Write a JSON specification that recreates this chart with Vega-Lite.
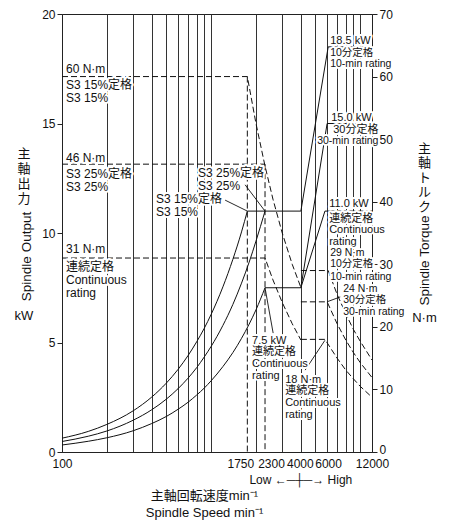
{
  "$schema": "https://vega.github.io/schema/vega-lite/v6.json",
  "width": 310,
  "height": 438,
  "autosize": {"type": "none"},
  "padding": {"left": 62, "top": 14, "right": 81, "bottom": 72},
  "background": "white",
  "config": {
    "view": {"stroke": "#222", "strokeWidth": 1},
    "font": "Liberation Sans, Noto Sans CJK JP, sans-serif",
    "text": {"font": "Liberation Sans, Noto Sans CJK JP, sans-serif"},
    "axis": {
      "domainColor": "#222", "tickColor": "#222", "labelColor": "#111", "titleColor": "#111",
      "labelFont": "Liberation Sans, Noto Sans CJK JP, sans-serif",
      "titleFont": "Liberation Sans, Noto Sans CJK JP, sans-serif",
      "labelFontSize": 12, "titleFontWeight": "normal", "grid": false
    }
  },
  "datasets": {
    "pc": [
      {"s": "P15", "n": 100, "v": 0.63}, {"s": "P15", "n": 150, "v": 0.94}, {"s": "P15", "n": 200, "v": 1.26},
      {"s": "P15", "n": 300, "v": 1.88}, {"s": "P15", "n": 400, "v": 2.51}, {"s": "P15", "n": 500, "v": 3.14},
      {"s": "P15", "n": 600, "v": 3.77}, {"s": "P15", "n": 700, "v": 4.4}, {"s": "P15", "n": 800, "v": 5.03},
      {"s": "P15", "n": 900, "v": 5.65}, {"s": "P15", "n": 1000, "v": 6.28}, {"s": "P15", "n": 1200, "v": 7.54},
      {"s": "P15", "n": 1400, "v": 8.8}, {"s": "P15", "n": 1600, "v": 10.05}, {"s": "P15", "n": 1750, "v": 11.0},
      {"s": "P25", "n": 100, "v": 0.48}, {"s": "P25", "n": 150, "v": 0.72}, {"s": "P25", "n": 200, "v": 0.96},
      {"s": "P25", "n": 300, "v": 1.45}, {"s": "P25", "n": 400, "v": 1.93}, {"s": "P25", "n": 500, "v": 2.41},
      {"s": "P25", "n": 600, "v": 2.89}, {"s": "P25", "n": 700, "v": 3.37}, {"s": "P25", "n": 800, "v": 3.85},
      {"s": "P25", "n": 900, "v": 4.34}, {"s": "P25", "n": 1000, "v": 4.82}, {"s": "P25", "n": 1200, "v": 5.78},
      {"s": "P25", "n": 1400, "v": 6.74}, {"s": "P25", "n": 1600, "v": 7.71}, {"s": "P25", "n": 1800, "v": 8.67},
      {"s": "P25", "n": 2000, "v": 9.63}, {"s": "P25", "n": 2300, "v": 11.0},
      {"s": "PC", "n": 100, "v": 0.32}, {"s": "PC", "n": 150, "v": 0.49}, {"s": "PC", "n": 200, "v": 0.65},
      {"s": "PC", "n": 300, "v": 0.97}, {"s": "PC", "n": 400, "v": 1.3}, {"s": "PC", "n": 500, "v": 1.62},
      {"s": "PC", "n": 600, "v": 1.95}, {"s": "PC", "n": 700, "v": 2.27}, {"s": "PC", "n": 800, "v": 2.6},
      {"s": "PC", "n": 900, "v": 2.92}, {"s": "PC", "n": 1000, "v": 3.25}, {"s": "PC", "n": 1200, "v": 3.9},
      {"s": "PC", "n": 1400, "v": 4.54}, {"s": "PC", "n": 1600, "v": 5.19}, {"s": "PC", "n": 1800, "v": 5.84},
      {"s": "PC", "n": 2000, "v": 6.49}, {"s": "PC", "n": 2300, "v": 7.5}
    ],
    "pl": [
      {"s": "F15", "n": 1750, "v": 11.0}, {"s": "F15", "n": 4000, "v": 11.0},
      {"s": "FC", "n": 2300, "v": 7.5}, {"s": "FC", "n": 4000, "v": 7.5},
      {"s": "H10", "n": 4000, "v": 11.0}, {"s": "H10", "n": 6100, "v": 18.5}, {"s": "H10", "n": 12000, "v": 18.5},
      {"s": "H30", "n": 4000, "v": 7.5}, {"s": "H30", "n": 6000, "v": 15.0}, {"s": "H30", "n": 12000, "v": 15.0},
      {"s": "HC", "n": 4000, "v": 7.5}, {"s": "HC", "n": 5800, "v": 11.0}, {"s": "HC", "n": 12000, "v": 11.0}
    ],
    "ld": [
      {"s": "L15", "n": 1242, "v": 11.5}, {"s": "L15", "n": 1750, "v": 11.0},
      {"s": "L25", "n": 1691, "v": 12.2}, {"s": "L25", "n": 2300, "v": 11.0},
      {"s": "L75", "n": 2607, "v": 5.43}, {"s": "L75", "n": 2300, "v": 7.5},
      {"s": "L18", "n": 4275, "v": 3.74}, {"s": "L18", "n": 5800, "v": 5.1},
      {"s": "L24", "n": 7345, "v": 7.08}, {"s": "L24", "n": 6000, "v": 6.86}
    ],
    "tl": [
      {"s": "T15", "n": 100, "v": 60}, {"s": "T15", "n": 1750, "v": 60}, {"s": "T15", "n": 2000, "v": 52.5},
      {"s": "T15", "n": 2300, "v": 45.7}, {"s": "T15", "n": 2600, "v": 40.4}, {"s": "T15", "n": 3000, "v": 35.0},
      {"s": "T15", "n": 3500, "v": 30.0}, {"s": "T15", "n": 4000, "v": 26.3},
      {"s": "T25", "n": 100, "v": 46}, {"s": "T25", "n": 2300, "v": 46},
      {"s": "TC", "n": 100, "v": 31}, {"s": "TC", "n": 2300, "v": 31}, {"s": "TC", "n": 2600, "v": 27.5},
      {"s": "TC", "n": 3000, "v": 23.9}, {"s": "TC", "n": 3500, "v": 20.5}, {"s": "TC", "n": 4000, "v": 17.9},
      {"s": "T10", "n": 4000, "v": 29}, {"s": "T10", "n": 6100, "v": 29}, {"s": "T10", "n": 7000, "v": 25.2},
      {"s": "T10", "n": 8000, "v": 22.1}, {"s": "T10", "n": 9000, "v": 19.6}, {"s": "T10", "n": 10000, "v": 17.7},
      {"s": "T10", "n": 12000, "v": 14.7},
      {"s": "T30", "n": 4000, "v": 24}, {"s": "T30", "n": 6000, "v": 24}, {"s": "T30", "n": 7000, "v": 20.5},
      {"s": "T30", "n": 8000, "v": 17.9}, {"s": "T30", "n": 9000, "v": 15.9}, {"s": "T30", "n": 10000, "v": 14.3},
      {"s": "T30", "n": 12000, "v": 11.9},
      {"s": "THC", "n": 4000, "v": 18}, {"s": "THC", "n": 5800, "v": 18}, {"s": "THC", "n": 7000, "v": 15.0},
      {"s": "THC", "n": 8000, "v": 13.1}, {"s": "THC", "n": 9000, "v": 11.7}, {"s": "THC", "n": 10000, "v": 10.5},
      {"s": "THC", "n": 12000, "v": 8.75}
    ],
    "tv": [
      {"n": 1750, "v": 60, "v0": 0},
      {"n": 2300, "v": 46, "v0": 0}
    ],
    "labA": [
      {"n": 106.4, "v": 17.71, "t": "60 N·m"},
      {"n": 106.4, "v": 16.98, "t": "S3 15%定格\nS3 15%"},
      {"n": 106.4, "v": 13.65, "t": "46 N·m"},
      {"n": 106.4, "v": 12.92, "t": "S3 25%定格\nS3 25%"},
      {"n": 106.4, "v": 9.49, "t": "31 N·m"},
      {"n": 106.4, "v": 8.67, "t": "連続定格\nContinuous\nrating"},
      {"n": 818, "v": 12.96, "t": "S3 25%定格\nS3 25%"},
      {"n": 427, "v": 11.78, "t": "S3 15%定格\nS3 15%"}
    ],
    "labB": [
      {"n": 6290, "v": 19.06, "t": "18.5 kW"},
      {"n": 6390, "v": 15.54, "t": "15.0 kW"},
      {"n": 6590, "v": 15.0, "t": "30分定格"},
      {"n": 6194, "v": 11.62, "t": "11.0 kW"},
      {"n": 6194, "v": 10.93, "t": "連続定格\nContinuous\nrating"},
      {"n": 1884, "v": 5.36, "t": "7.5 kW\n連続定格\nContinuous\nrating"},
      {"n": 3139, "v": 3.58, "t": "18 N·m\n連続定格\nContinuous\nrating"}
    ],
    "labC": [
      {"n": 6290, "v": 18.45, "t": "10分定格\n10-min rating"},
      {"n": 5144, "v": 14.42, "t": "30-min rating"},
      {"n": 6290, "v": 9.32, "t": "29 N·m\n10分定格"},
      {"n": 6290, "v": 8.2, "t": "10-min rating"},
      {"n": 7690, "v": 7.68, "t": "24 N·m\n30分定格\n30-min rating"}
    ],
    "outL": [
      {"n": 100, "v": 13.88, "t": "主\n軸\n出\n力"},
      {"n": 100, "v": 6.48, "t": "kW"}
    ],
    "outR": [
      {"n": 12000, "v": 14.11, "t": "主\n軸\nト\nル\nク"},
      {"n": 12000, "v": 6.39, "t": "N·m"}
    ],
    "gear": [
      {"n": 4000, "v": 0, "t": "Low ←─┼─→ High"}
    ]
  },
  "encoding": {
    "x": {
      "field": "n", "type": "quantitative",
      "scale": {"type": "log", "domain": [100, 12000], "nice": false},
      "axis": {
        "values": [100, 200, 300, 400, 500, 600, 700, 800, 900, 1000, 1750, 2000, 2300, 3000, 4000, 5000, 6000, 7000, 8000, 9000, 10000, 12000],
        "labelExpr": "indexof([100,1750,2300,4000,6000,12000], datum.value) >= 0 ? format(datum.value, 'd') : ''",
        "labelOverlap": false, "labelFlush": false, "labelBound": false,
        "labelFontSize": 12, "labelPadding": 6,
        "labelOffset": {"condition": [{"test": "datum.value == 1750", "value": -7}, {"test": "datum.value == 2300", "value": 6}, {"test": "datum.value == 4000", "value": -1}, {"test": "datum.value == 6000", "value": 1}], "value": 0},
        "ticks": false,
        "grid": true,
        "gridColor": {"condition": {"test": "indexof([100,1750,2300,12000], datum.value) >= 0", "value": "transparent"}, "value": "#333"},
        "gridWidth": 1,
        "title": ["主軸回転速度min⁻¹", "Spindle Speed min⁻¹"],
        "titleFontSize": 13, "titleLineHeight": 17,
        "titleX": 142, "titleY": 37, "titleAlign": "center", "titleBaseline": "top"
      }
    }
  },
  "layer": [
    {
      "encoding": {
        "y": {
          "field": "v", "type": "quantitative",
          "scale": {"domain": [0, 20], "nice": false},
          "axis": {
            "values": [0, 5, 10, 15, 20], "tickSize": 5, "labelPadding": 2, "labelFontSize": 12,
            "title": "Spindle Output", "titleFontSize": 13.5, "titleAngle": 270,
            "titleX": -35.5, "titleY": 242, "titleAlign": "center", "titleBaseline": "middle"
          }
        },
        "detail": {"field": "s"}
      },
      "layer": [
        {"data": {"name": "pc"}, "mark": {"type": "line", "interpolate": "monotone", "color": "#111", "strokeWidth": 1}},
        {"data": {"name": "pl"}, "mark": {"type": "line", "color": "#111", "strokeWidth": 1}},
        {"data": {"name": "ld"}, "mark": {"type": "line", "color": "#111", "strokeWidth": 0.9}}
      ]
    },
    {
      "encoding": {
        "y": {
          "field": "v", "type": "quantitative",
          "scale": {"domain": [0, 70], "nice": false},
          "axis": {
            "orient": "right", "values": [0, 10, 20, 30, 40, 50, 60, 70], "tickSize": 5, "labelPadding": 2, "labelFontSize": 12,
            "labelOffset": {"condition": {"test": "datum.value == 0", "value": -3}, "value": 0},
            "title": "Spindle Torque", "titleFontSize": 13.5, "titleAngle": 270,
            "titleX": 52, "titleY": 246, "titleAlign": "center", "titleBaseline": "middle"
          }
        }
      },
      "layer": [
        {"data": {"name": "tl"}, "encoding": {"detail": {"field": "s"}}, "mark": {"type": "line", "color": "#111", "strokeWidth": 1, "strokeDash": [6, 3]}},
        {"data": {"name": "tv"}, "encoding": {"y2": {"field": "v0"}}, "mark": {"type": "rule", "color": "#111", "strokeWidth": 1, "strokeDash": [6, 3]}}
      ]
    },
    {
      "encoding": {
        "y": {"field": "v", "type": "quantitative", "scale": {"domain": [0, 20], "nice": false}, "axis": null},
        "text": {"field": "t"}
      },
      "layer": [
        {"data": {"name": "labA"}, "mark": {"type": "text", "align": "left", "baseline": "top", "fontSize": 12, "lineHeight": 13, "lineBreak": "\n", "fill": "white", "stroke": "white", "strokeWidth": 4, "strokeJoin": "round"}},
        {"data": {"name": "labA"}, "mark": {"type": "text", "align": "left", "baseline": "top", "fontSize": 12, "lineHeight": 13, "lineBreak": "\n", "fill": "#111"}},
        {"data": {"name": "labB"}, "mark": {"type": "text", "align": "left", "baseline": "top", "fontSize": 11, "lineHeight": 11.7, "lineBreak": "\n", "fill": "white", "stroke": "white", "strokeWidth": 4, "strokeJoin": "round"}},
        {"data": {"name": "labB"}, "mark": {"type": "text", "align": "left", "baseline": "top", "fontSize": 11, "lineHeight": 11.7, "lineBreak": "\n", "fill": "#111"}},
        {"data": {"name": "labC"}, "mark": {"type": "text", "align": "left", "baseline": "top", "fontSize": 10.5, "lineHeight": 11.5, "lineBreak": "\n", "fill": "white", "stroke": "white", "strokeWidth": 4, "strokeJoin": "round"}},
        {"data": {"name": "labC"}, "mark": {"type": "text", "align": "left", "baseline": "top", "fontSize": 10.5, "lineHeight": 11.5, "lineBreak": "\n", "fill": "#111"}},
        {"data": {"name": "outL"}, "mark": {"type": "text", "align": "center", "baseline": "top", "fontSize": 13, "lineHeight": 15, "lineBreak": "\n", "dx": -38, "fill": "#111"}},
        {"data": {"name": "outR"}, "mark": {"type": "text", "align": "center", "baseline": "top", "fontSize": 13, "lineHeight": 14.5, "lineBreak": "\n", "dx": 52.5, "fill": "#111"}},
        {"data": {"name": "gear"}, "mark": {"type": "text", "align": "center", "baseline": "middle", "fontSize": 12, "dy": 28, "fill": "#111"}}
      ]
    }
  ],
  "resolve": {"scale": {"y": "independent"}}
}
